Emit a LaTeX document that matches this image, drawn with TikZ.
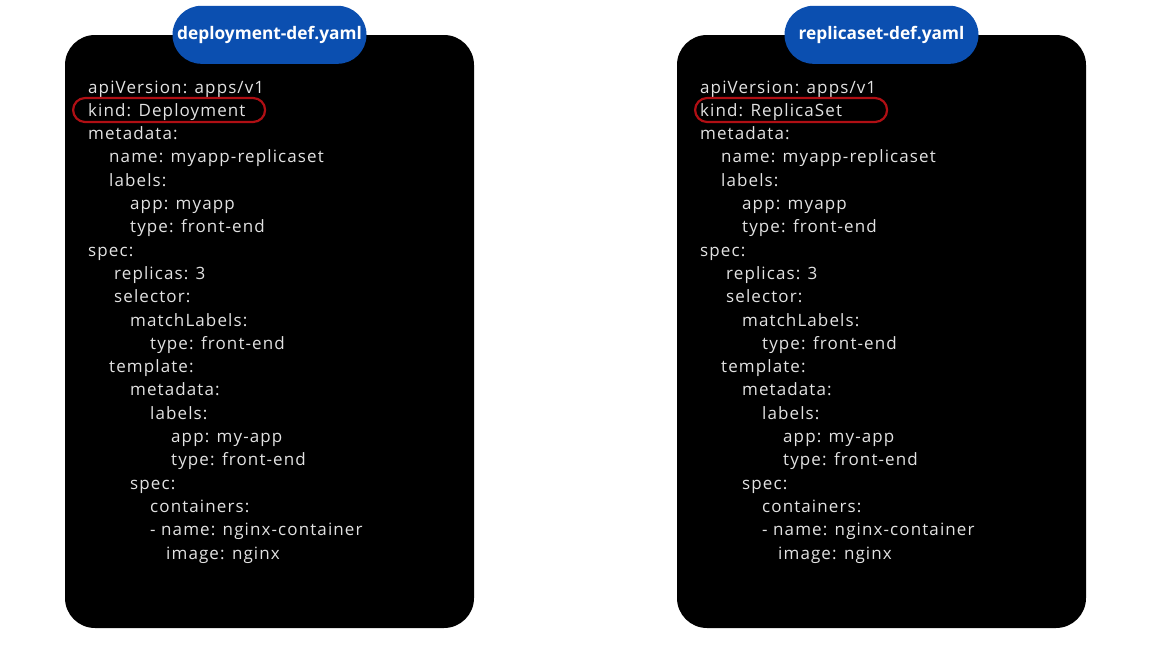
\documentclass[tikz,border=0pt]{standalone}
\usepackage{fontspec}
\setmainfont{Open Sans}
\newfontfamily\codefont[LetterSpace=6.5]{Open Sans}
\usepackage{xcolor}

\definecolor{pillblue}{HTML}{0B4FB0}
\definecolor{kindred}{HTML}{B00F14}
\definecolor{codegray}{HTML}{E2E2E2}

\tikzset{
  panel/.style={fill=black, rounded corners=30pt, minimum width=409pt, minimum height=593pt, inner sep=0pt},
  pill/.style={fill=pillblue, rounded corners=28.9pt, minimum width=194pt, minimum height=58pt, inner sep=0pt, text=white, font=\bfseries\fontsize{17.3}{20}\selectfont},
  code/.style={anchor=base west, inner sep=0pt, text=codegray, font=\codefont\fontsize{17}{20}\selectfont},
  kindbox/.style={draw=kindred, line width=2.2pt, rounded corners=12pt, minimum width=192pt, minimum height=24pt, inner sep=0pt, anchor=west},
}

% one yaml card: name, x shift, file name, kind, x of the red box
\newcommand\yamlpanel[5]{%
  \node[panel] (#1) at (#2+269.5,331.5) {};
  \node[pill] (#1-title) at (#1.north) {#3};
  \foreach \ind/\txt [count=\i] in {0/{apiVersion: apps/v1}, 0/{kind: #4}, 0/{metadata:},
      21/{name: myapp-replicaset}, 21/{labels:}, 42/{app: myapp}, 42/{type: front-end},
      0/{spec:}, 26/{replicas: 3}, 26/{selector:}, 42/{matchLabels:}, 62/{type: front-end},
      21/{template:}, 42/{metadata:}, 62/{labels:}, 83/{app: my-app}, 83/{type: front-end},
      42/{spec:}, 62/{containers:}, 62/{- name: nginx-container}, 78/{image: nginx}}
    \node[code] (#1-l\i) at (#2+88+\ind, 69.7+23.3*\i) {\txt};
  \node[kindbox] (#1-kind) at (#5,110) {};
}

\begin{document}
\begin{tikzpicture}[x=1pt,y=-1pt]
\fill[white] (0,0) rectangle (1152,648);
\useasboundingbox (0,0) rectangle (1152,648);

\yamlpanel{deploy}{0}{deployment-def.yaml}{Deployment}{72}
\yamlpanel{rs}{612}{replicaset-def.yaml}{ReplicaSet}{694}
\end{tikzpicture}
\end{document}
